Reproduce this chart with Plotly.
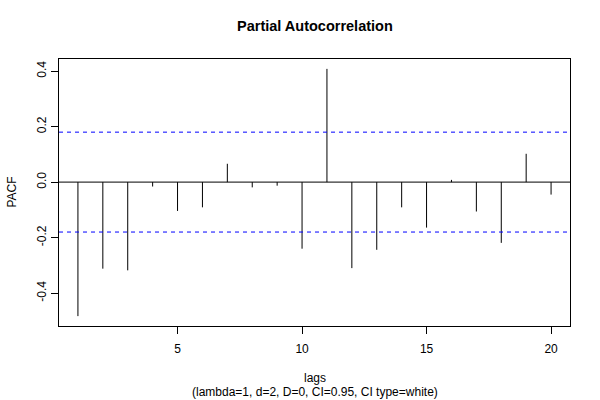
import plotly.graph_objects as go

lags = list(range(1, 21))
pacf = [-0.483, -0.312, -0.318, -0.016, -0.104, -0.091, 0.066, -0.019, -0.013, -0.240,
        0.408, -0.310, -0.244, -0.091, -0.164, 0.008, -0.106, -0.219, 0.102, -0.045]
ci = 0.18
ytick_vals = [-0.4, -0.2, 0.0, 0.2, 0.4]
ytick_text = ["-0.4", "-0.2", "0.0", "0.2", "0.4"]
xtick_vals = [5, 10, 15, 20]

xs, ys = [], []
for l, v in zip(lags, pacf):
    xs += [l, l, None]
    ys += [0, v, None]

FONT = "Liberation Sans, Arial, Helvetica, sans-serif"

fig = go.Figure()
fig.add_trace(go.Scatter(x=xs, y=ys, mode="lines", line=dict(color="black", width=1),
                         hoverinfo="skip", showlegend=False))

fig.add_shape(type="line", xref="paper", x0=0, x1=1, yref="y", y0=0, y1=0,
              line=dict(color="black", width=1))
for c in (ci, -ci):
    fig.add_shape(type="line", xref="paper", x0=0, x1=1, yref="y", y0=c, y1=c,
                  line=dict(color="blue", width=1, dash="4px,4px"))

ymin = min(min(pacf), -ci)
ymax = max(max(pacf), ci)
yext = 0.04 * (ymax - ymin)
xext = 0.04 * (max(lags) - min(lags))

fig.update_layout(
    width=600, height=400,
    margin=dict(l=59, r=30, t=59, b=74),
    paper_bgcolor="white", plot_bgcolor="white",
    font=dict(family=FONT, size=12, color="black"),
    xaxis=dict(range=[min(lags) - xext, max(lags) + xext], tickvals=xtick_vals,
               ticks="outside", ticklen=7, tickcolor="black", showline=True,
               linecolor="black", linewidth=1, mirror=True, showgrid=False,
               zeroline=False, tickfont=dict(size=12), ticklabelstandoff=5),
    yaxis=dict(range=[ymin - yext, ymax + yext], tickvals=ytick_vals, ticktext=ytick_text,
               ticks="outside", ticklen=7, tickcolor="black", showline=True,
               linecolor="black", linewidth=1, mirror=True, showgrid=False,
               zeroline=False, tickangle=-90, tickfont=dict(size=12)),
    annotations=[
        dict(text="<b>Partial Autocorrelation</b>", xref="paper", yref="paper", x=0.5, y=1,
             xanchor="center", yanchor="middle", yshift=33, showarrow=False,
             font=dict(size=14.5)),
        dict(text="lags", xref="paper", yref="paper", x=0.5, y=0, xanchor="center",
             yanchor="middle", yshift=-52, showarrow=False, font=dict(size=12)),
        dict(text="(lambda=1, d=2, D=0, CI=0.95, CI type=white)", xref="paper", yref="paper",
             x=0.5, y=0, xanchor="center", yanchor="middle", yshift=-66, showarrow=False,
             font=dict(size=12)),
        dict(text="PACF", xref="paper", yref="paper", x=0, y=0.5, xanchor="center",
             yanchor="middle", xshift=-48, textangle=-90, showarrow=False,
             font=dict(size=12)),
    ],
)

fig.write_html("out.html", config={"displayModeBar": False, "staticPlot": True},
               post_script="document.body.style.margin='0px';document.body.style.overflow='hidden';")
